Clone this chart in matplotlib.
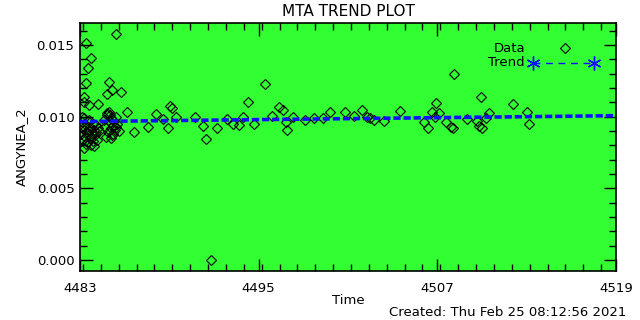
import matplotlib
matplotlib.use("Agg")
import matplotlib.pyplot as plt
from matplotlib.ticker import MultipleLocator, FixedLocator
import numpy as np

# ---- data ----
time_vals = [
    # dense cluster near start
    4483.05, 4483.10, 4483.15, 4483.20, 4483.25, 4483.30, 4483.35, 4483.40, 4483.45, 4483.50,
    4483.55, 4483.60, 4483.65, 4483.70, 4483.75, 4483.80, 4483.85, 4483.90, 4483.95, 4484.00,
    4484.05, 4484.10, 4484.15, 4484.20, 4484.30, 4483.12, 4483.28, 4483.42, 4483.58, 4483.72,
    4484.60, 4484.70, 4484.80, 4484.90, 4485.00, 4485.05, 4485.10, 4485.15, 4485.20, 4485.30,
    4485.35, 4485.40, 4485.50, 4485.60, 4484.75, 4484.95, 4485.25, 4485.45,
    # scattered points
    4485.44, 4483.42, 4483.76, 4483.54, 4483.42, 4484.97, 4485.73, 4485.15, 4484.83, 4483.27,
    4483.27, 4483.60, 4484.20, 4486.18, 4484.83, 4484.99, 4486.63, 4485.10, 4483.94,
    4487.59, 4488.08, 4488.55, 4488.89, 4489.04, 4489.16, 4489.43, 4490.72, 4491.28, 4491.44,
    4492.22, 4492.85, 4493.30, 4493.70, 4493.97, 4494.30, 4494.69, 4495.43, 4495.87, 4496.39,
    4496.65, 4496.84, 4496.88, 4497.28, 4498.13, 4498.74, 4499.34, 4499.79, 4500.80, 4501.42,
    4501.96, 4502.25, 4502.48, 4502.77, 4503.44, 4504.49, 4506.12, 4506.35, 4506.66, 4506.91,
    4507.11, 4506.84, 4507.56, 4507.90, 4508.03, 4508.12, 4508.97, 4509.64, 4509.80, 4509.93,
    4510.02, 4510.25, 4510.47, 4512.10, 4513.04, 4513.18, 4491.80,
]
angynea_vals = [
    0.0093, 0.0088, 0.0096, 0.0084, 0.0091, 0.0099, 0.0086, 0.0094, 0.0089, 0.0082,
    0.0097, 0.0090, 0.0085, 0.0093, 0.0080, 0.0088, 0.0095, 0.0083, 0.0091, 0.0087,
    0.0094, 0.0089, 0.0084, 0.0092, 0.0090, 0.0100, 0.0078, 0.0081, 0.0098, 0.0086,
    0.0098, 0.0093, 0.0101, 0.0089, 0.0096, 0.0092, 0.0099, 0.0087, 0.0094, 0.0097,
    0.0091, 0.0100, 0.0095, 0.0090, 0.0086, 0.0103, 0.0088, 0.0093,
    0.01575, 0.01512, 0.01407, 0.01337, 0.01233, 0.01242, 0.01172, 0.01186, 0.01156, 0.01140,
    0.01105, 0.01081, 0.01088, 0.01033, 0.01028, 0.01012, 0.00893, 0.00849, 0.00795,
    0.00926, 0.01016, 0.00981, 0.00923, 0.01074, 0.01058, 0.00995, 0.01000, 0.00935, 0.00842,
    0.00923, 0.00984, 0.00947, 0.00940, 0.00995, 0.01105, 0.00947, 0.01228, 0.01005, 0.01070,
    0.01047, 0.00965, 0.00907, 0.01000, 0.00977, 0.00989, 0.00993, 0.01030, 0.01030, 0.01005,
    0.01047, 0.00995, 0.00989, 0.00977, 0.00972, 0.01040, 0.00965, 0.00919, 0.01030, 0.01093,
    0.01023, 0.00995, 0.00965, 0.00930, 0.00919, 0.01296, 0.00984, 0.00972, 0.00935, 0.01140,
    0.00919, 0.00989, 0.01023, 0.01086, 0.01030, 0.00947, 0.00000,
]
trend_time = [4483.0, 4519.0]
trend_vals = [0.00966, 0.01007]

x_ticks = [4483, 4495, 4507, 4519]
x_ticklabels = ["4483", "4495", "4507", "4519"]
y_ticks = [0.000, 0.005, 0.010, 0.015]
y_ticklabels = ["0.000", "0.005", "0.010", "0.015"]

# ---- figure ----
plt.rcParams['font.family'] = ['DejaVu Sans']
fig = plt.figure(figsize=(6.4, 3.2), dpi=100)
fig.patch.set_facecolor('white')
ax = fig.add_axes([80/640, 1-271/320, 536/640, 248/320])
ax.set_facecolor('#32ff32')

ax.plot(time_vals, angynea_vals, linestyle='none', marker='D', ms=5,
        mfc='none', mec='black', mew=0.8, zorder=3)
ax.plot(trend_time, trend_vals, color='#1010ff', lw=2.6,
        linestyle=(0, (2.0, 0.8)), zorder=4)

ax.set_xlim(4483, 4519)
ax.set_ylim(-0.00077, 0.01654)

ax.xaxis.set_major_locator(FixedLocator(x_ticks))
ax.set_xticklabels(x_ticklabels)
ax.xaxis.set_minor_locator(MultipleLocator(1.2))
ax.yaxis.set_major_locator(FixedLocator(y_ticks))
ax.set_yticklabels(y_ticklabels)
ax.yaxis.set_minor_locator(MultipleLocator(0.001))

ax.tick_params(which='both', direction='in', top=True, right=True,
               color='black', labelsize=9.5)
ax.tick_params(which='major', length=9, width=1)
ax.tick_params(which='minor', length=5, width=1)
ax.tick_params(axis='x', which='major', pad=8)
ax.tick_params(axis='y', which='major', pad=4)
for s in ax.spines.values():
    s.set_linewidth(1.2)

ax.set_ylabel("ANGYNEA_2", fontsize=9.5, labelpad=6)
fig.text(348/640, 1-300/320, "Time", fontsize=9.5, ha='center', va='center')
fig.text(626/640, 1-313/320, "Created: Thu Feb 25 08:12:56 2021",
         fontsize=9.5, ha='right', va='center')
fig.text(348/640, 1-11/320, "MTA TREND PLOT", fontsize=11, ha='center', va='center')

# legend drawn IDL-style
ax.text(0.830, 0.899, "Data", transform=ax.transAxes, ha='right', va='center', fontsize=9.5)
ax.plot([0.905], [0.899], transform=ax.transAxes, marker='D', ms=5,
        mfc='none', mec='black', mew=0.8, linestyle='none', clip_on=False)
ax.text(0.830, 0.839, "Trend", transform=ax.transAxes, ha='right', va='center', fontsize=9.5)
ax.plot([0.845, 0.959], [0.839, 0.839], transform=ax.transAxes, color='#1010ff',
        lw=1, linestyle=(0, (5, 4)), clip_on=False)
ax.plot([0.845, 0.959], [0.839, 0.839], transform=ax.transAxes, color='#1010ff',
        linestyle='none', marker=(6, 2, 0), ms=10, mew=1.0, clip_on=False)

fig.savefig("out.png", dpi=100, facecolor='white')
